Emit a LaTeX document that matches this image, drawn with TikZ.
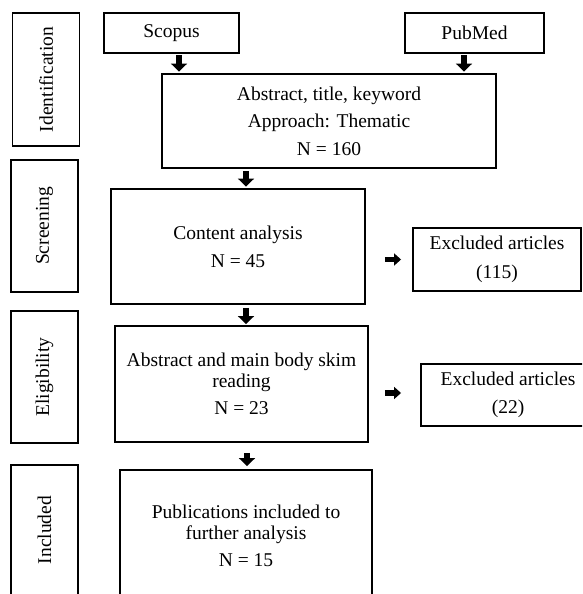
\documentclass[tikz,border=0pt]{standalone}
\usepackage{fontspec}
\setmainfont{Liberation Serif}
\usetikzlibrary{arrows.meta}
\begin{document}
\begin{tikzpicture}[x=1pt,y=-1pt,
  box/.style={draw,line width=1.9pt,inner sep=0pt,align=center,
    font=\fontsize{19.5}{21}\selectfont},
  stage/.style={box,rotate=90,minimum width=#1,minimum height=67pt},
  downarrow/.style={line width=6.5pt,-{Triangle[width=16pt,length=8pt]}},
  rightarrow/.style={line width=5.5pt,-{Triangle[width=12pt,length=7pt]}}]
\useasboundingbox (0,0) rectangle (582,594);
\clip (0,0) rectangle (582,594);
% stage labels
\node[stage=133pt] (ident) at (46,79.5) {Identification};
\node[stage=132pt] (screen) at (44.5,226) {Screening};
\node[stage=132pt] (elig) at (44.5,377) {Eligibility};
\node[stage=130pt] (incl) at (44.5,530) {Included};
% main boxes
\node[box,minimum width=135pt,minimum height=40pt] (scopus) at (171.5,33) {Scopus};
\node[box,minimum width=139pt,minimum height=40pt] (pubmed) at (474.5,33) {PubMed};
\node[box,minimum width=334pt,minimum height=94pt] (abs) at (329,121)
  {Abstract, title, keyword\\[6.5pt]Approach: Thematic\\[6.5pt]N = 160};
\node[box,minimum width=254pt,minimum height=115pt] (content) at (238,246.5)
  {Content analysis\\[7pt]N = 45};
\node[box,minimum width=168pt,minimum height=63pt] (excl1) at (497,259.5)
  {Excluded articles\\[8pt](115)};
\node[box,minimum width=253pt,minimum height=116pt] (absmain) at (241.5,384)
  {Abstract and main body skim\\reading\\[6.5pt]N = 23};
\node[box,minimum width=174pt,minimum height=62pt] (excl2) at (508,395)
  {Excluded articles\\[7pt](22)};
\node[box,minimum width=252pt,minimum height=132pt] (pub) at (246,536)
  {Publications included to\\further analysis\\[6.5pt]N = 15};
% arrow columns
\coordinate (c1) at (179,0);
\coordinate (c2) at (464,0);
\coordinate (c3) at (246,0);
\coordinate (c4) at (247,0);
\draw[downarrow,shorten <=1.5pt,shorten >=1.5pt] (c1 |- scopus.south) -- (c1 |- abs.north);
\draw[downarrow,shorten <=1.5pt,shorten >=1.5pt] (c2 |- pubmed.south) -- (c2 |- abs.north);
\draw[downarrow,shorten <=2pt,shorten >=1.5pt] (c3 |- abs.south) -- (c3 |- content.north);
\draw[downarrow,shorten <=3pt,shorten >=1pt] (c3 |- content.south) -- (c3 |- absmain.north);
\draw[downarrow,shorten <=10pt,shorten >=3pt] (c4 |- absmain.south) -- (c4 |- pub.north);
\draw[rightarrow,shorten <=19pt,shorten >=11pt] (content.east |- excl1.west) -- (excl1.west);
\draw[rightarrow,shorten <=16pt,shorten >=19pt] ([yshift=2pt]absmain.east |- excl2.west) -- ([yshift=2pt]excl2.west);
\end{tikzpicture}
\end{document}
